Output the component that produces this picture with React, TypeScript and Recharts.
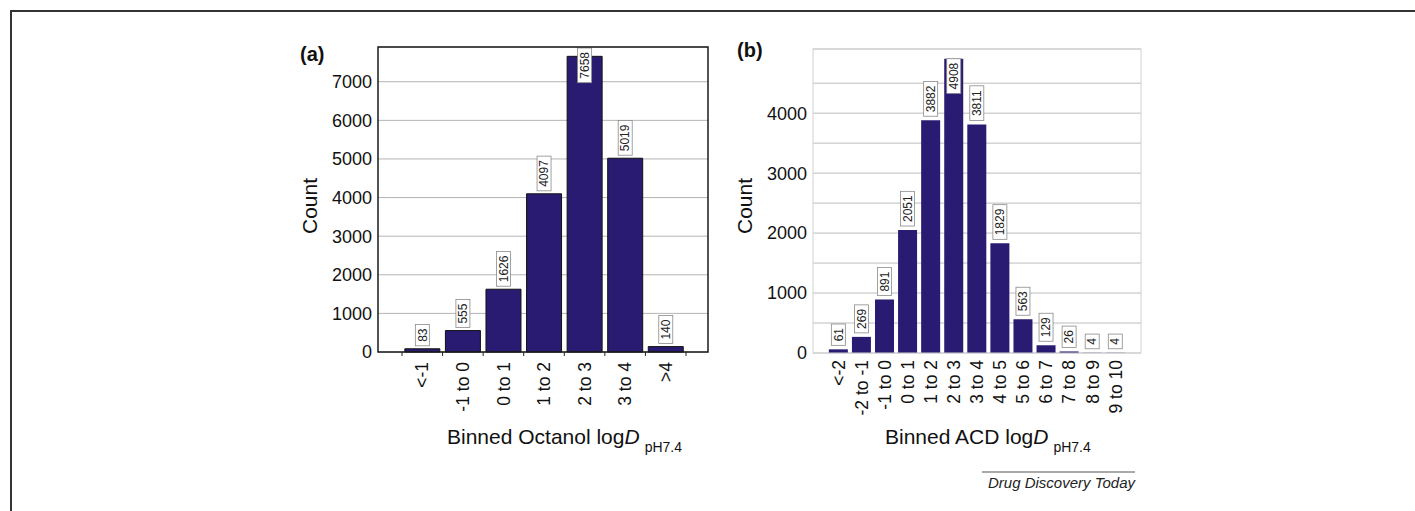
import { BarChart, Bar, XAxis, YAxis, CartesianGrid, LabelList } from 'recharts'

const octanolBins = ['<-1', '-1 to 0', '0 to 1', '1 to 2', '2 to 3', '3 to 4', '>4']
const octanolCounts = [83, 555, 1626, 4097, 7658, 5019, 140]
const octanolTicks = [0, 1000, 2000, 3000, 4000, 5000, 6000, 7000]

const acdBins = ['<-2', '-2 to -1', '-1 to 0', '0 to 1', '1 to 2', '2 to 3', '3 to 4', '4 to 5', '5 to 6', '6 to 7', '7 to 8', '8 to 9', '9 to 10']
const acdCounts = [61, 269, 891, 2051, 3882, 4908, 3811, 1829, 563, 129, 26, 4, 4]
const acdTicks = [0, 500, 1000, 1500, 2000, 2500, 3000, 3500, 4000, 4500]

const FONT = '"Liberation Sans", Arial, Helvetica, sans-serif'
const BAR_FILL = '#2a1b72'

// plot boxes in page pixels
const PLOT_A = { left: 378, top: 47, right: 708, bottom: 352 }
const PLOT_B = { left: 813, top: 49, right: 1141, bottom: 353 }
const PAD_A = { left: 24, right: 22 }
const PAD_B = { left: 14, right: 14 }
const Y_W = 80
const X_H = 70

const dataA = octanolBins.map((bin, i) => ({ bin, count: octanolCounts[i] }))
const dataB = acdBins.map((bin, i) => ({ bin, count: acdCounts[i] }))

function makeValueLabel(plotTop: number, insideWhenClipped: boolean, gap: number) {
  return (props: any) => {
    const vb = props.viewBox || props
    const x = Number(vb.x ?? props.x)
    const y = Number(vb.y ?? props.y)
    const width = Number(vb.width ?? props.width)
    const text = String(props.value)
    const cx = x + width / 2
    const h = text.length * 6.67 + 8
    const w = 14
    let top = y - gap - h
    if (top < plotTop + 1) top = insideWhenClipped ? y : plotTop + 1
    const cy = top + h / 2
    return (
      <g>
        <rect x={cx - w / 2} y={top} width={w} height={h} fill="#fff" stroke="#8a8a8a" strokeWidth={0.8} />
        <text x={cx} y={cy} dy="0.35em" textAnchor="middle" fontSize={12} fontFamily={FONT} fill="#222" transform={`rotate(-90, ${cx}, ${cy})`}>
          {text}
        </text>
      </g>
    )
  }
}

function makeTick(band: number, gap: number, marks: boolean, count: number) {
  return (props: any) => {
    const { x, y, payload, index } = props
    return (
      <g>
        {marks && <line x1={x - band / 2} x2={x - band / 2} y1={y} y2={y + 4} stroke="#222" strokeWidth={1} />}
        {marks && index === count - 1 && <line x1={x + band / 2} x2={x + band / 2} y1={y} y2={y + 4} stroke="#222" strokeWidth={1} />}
        <text x={x} y={y + gap} dy="0.35em" textAnchor="end" fontSize={17.5} fontFamily={FONT} fill="#111" transform={`rotate(-90, ${x}, ${y + gap})`}>
          {payload.value}
        </text>
      </g>
    )
  }
}

const bandA = (PLOT_A.right - PLOT_A.left - PAD_A.left - PAD_A.right) / octanolBins.length
const bandB = (PLOT_B.right - PLOT_B.left - PAD_B.left - PAD_B.right) / acdBins.length

export default function App() {
  const wA = 730
  const hA = 480
  const leftB = 720
  const wB = 450
  const hB = 480
  return (
    <div style={{ position: 'absolute', left: 0, top: 0, width: 1415, height: 511, background: '#fff', fontFamily: FONT, overflow: 'hidden' }}>
      <div style={{ position: 'absolute', left: 0, top: 0 }}>
        <BarChart
          width={wA}
          height={hA}
          data={dataA}
          margin={{ top: PLOT_A.top, left: PLOT_A.left - Y_W, right: wA - PLOT_A.right, bottom: hA - PLOT_A.bottom - X_H }}
          barCategoryGap="7%"
        >
          <CartesianGrid vertical={false} stroke="#b4b4b4" strokeWidth={1} />
          <XAxis
            dataKey="bin"
            height={X_H}
            padding={PAD_A}
            axisLine={false}
            tickLine={false}
            tickSize={0}
            tickMargin={0}
            interval={0}
            tick={makeTick(bandA, 10, true, octanolBins.length)}
          />
          <YAxis
            width={Y_W}
            domain={[0, 7900]}
            ticks={octanolTicks}
            axisLine={false}
            tickLine={false}
            tickSize={0}
            tickMargin={6}
            tick={{ fontSize: 18, fill: '#111', fontFamily: FONT }}
          />
          <Bar dataKey="count" fill={BAR_FILL} stroke="#111" strokeWidth={1} isAnimationActive={false}>
            <LabelList dataKey="count" content={makeValueLabel(PLOT_A.top, false, 3)} />
          </Bar>
        </BarChart>
      </div>
      <div style={{ position: 'absolute', left: leftB, top: 0 }}>
        <BarChart
          width={wB}
          height={hB}
          data={dataB}
          margin={{ top: PLOT_B.top, left: PLOT_B.left - leftB - Y_W, right: leftB + wB - PLOT_B.right, bottom: hB - PLOT_B.bottom - X_H }}
          barCategoryGap="8%"
        >
          <CartesianGrid vertical={false} stroke="#bdbdbd" strokeWidth={1} />
          <XAxis
            dataKey="bin"
            height={X_H}
            padding={PAD_B}
            axisLine={false}
            tickLine={false}
            tickSize={0}
            tickMargin={0}
            interval={0}
            tick={makeTick(bandB, 7, false, acdBins.length)}
          />
          <YAxis
            width={Y_W}
            domain={[0, 5070]}
            ticks={acdTicks}
            axisLine={false}
            tickLine={false}
            tickSize={0}
            tickMargin={6}
            tickFormatter={(v: number) => (v % 1000 === 0 ? String(v) : '')}
            tick={{ fontSize: 18, fill: '#111', fontFamily: FONT }}
          />
          <Bar dataKey="count" fill={BAR_FILL} isAnimationActive={false}>
            <LabelList dataKey="count" content={makeValueLabel(PLOT_B.top, true, 4)} />
          </Bar>
        </BarChart>
      </div>
      <svg width={1415} height={511} style={{ position: 'absolute', left: 0, top: 0, pointerEvents: 'none' }} fontFamily={FONT}>
        <path d="M11 511 V11 H1415" fill="none" stroke="#333" strokeWidth={2} />
        <rect x={PLOT_A.left} y={PLOT_A.top} width={PLOT_A.right - PLOT_A.left} height={PLOT_A.bottom - PLOT_A.top} fill="none" stroke="#1a1a1a" strokeWidth={1.5} />
        <rect x={PLOT_B.left} y={PLOT_B.top} width={PLOT_B.right - PLOT_B.left} height={PLOT_B.bottom - PLOT_B.top} fill="none" stroke="#d2d2d2" strokeWidth={1} />
        <text x={300} y={61} fontSize={20} fontWeight="bold" fill="#111">(a)</text>
        <text x={737} y={57} fontSize={20} fontWeight="bold" fill="#111">(b)</text>
        <text x={310} y={206} dy="0.35em" textAnchor="middle" fontSize={21} fill="#111" transform="rotate(-90, 310, 206)">Count</text>
        <text x={745} y={206} dy="0.35em" textAnchor="middle" fontSize={21} fill="#111" transform="rotate(-90, 745, 206)">Count</text>
        <text x={447} y={444} fontSize={21} fill="#111">
          Binned Octanol log<tspan fontStyle="italic">D</tspan>
          <tspan dx={5} dy={8} fontSize={14}>pH7.4</tspan>
        </text>
        <text x={885} y={444} fontSize={21} fill="#111">
          Binned ACD log<tspan fontStyle="italic">D</tspan>
          <tspan dx={5} dy={8} fontSize={14}>pH7.4</tspan>
        </text>
        <line x1={982} x2={1135} y1={472} y2={472} stroke="#555" strokeWidth={1} />
        <text x={1135} y={488} textAnchor="end" fontSize={15} fontStyle="italic" fill="#222">Drug Discovery Today</text>
      </svg>
    </div>
  )
}
